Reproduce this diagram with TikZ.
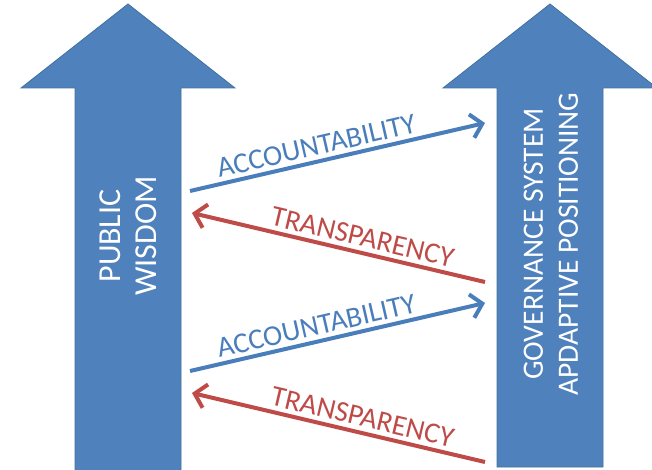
\documentclass[tikz,border=0pt]{standalone}
\usepackage{fontspec}
\setmainfont{Carlito}
\usetikzlibrary{arrows.meta}
\usetikzlibrary{calc}
\usepackage{xcolor}

\definecolor{bigblue}{HTML}{4F81BD}
\definecolor{bigedge}{HTML}{41719C}
\definecolor{linkblue}{HTML}{4A7EBB}
\definecolor{linkred}{HTML}{BE4B48}

\tikzset{
  bigarrow/.style={fill=bigblue, draw=bigedge, line width=0.8pt},
  bigtext/.style={text=white, font=\fontsize{32}{36}\selectfont, align=center, rotate=90},
  linkfwd/.style={line width=4pt, -{Straight Barb[length=11pt,width=24pt]}},
  linkback/.style={line width=4pt, {Straight Barb[length=11pt,width=24pt]}-},
  linktext/.style={font=\fontsize{29}{32}\selectfont, sloped, above, inner sep=4pt},
}

\begin{document}
\begin{tikzpicture}[x=1pt,y=1pt]

        \useasboundingbox (0,0) rectangle (652,469);
        \clip (0,0) rectangle (652,469);

        % Left arrow
        \draw[bigarrow] (75,-2) -- (75,381) -- (21,381) -- (128,465) -- (235,381) -- (181,381) -- (181,-2) -- cycle;
        \node[bigtext] (wisdom) at (128,233) {PUBLIC\\WISDOM};

        % Right arrow
        \draw[bigarrow] (497,2) -- (497,381) -- (443,381) -- (550,465) -- (657,381) -- (603,381) -- (603,2) -- cycle;
        \node[bigtext, font=\fontsize{29.5}{35}\selectfont] (gov) at (551,225) {GOVERNANCE SYSTEM\\APDAPTIVE POSITIONING};

        % Links
        \foreach \i/\dy in {1/0,2/180}
        {
          \coordinate (accL\i) at (190,278-\dy);
          \coordinate (accR\i) at (485,346-\dy);
          \coordinate (traL\i) at (192,256-\dy);
          \coordinate (traR\i) at (485,187-\dy);
          \draw[linkfwd, linkblue] (accL\i) -- (accR\i) node[linktext, pos=0.44, text=linkblue] {ACCOUNTABILITY};
          \draw[linkback, linkred] (traL\i) -- (traR\i) node[linktext, pos=0.57, text=linkred] {TRANSPARENCY};
        }
    \end{tikzpicture}
\end{document}
